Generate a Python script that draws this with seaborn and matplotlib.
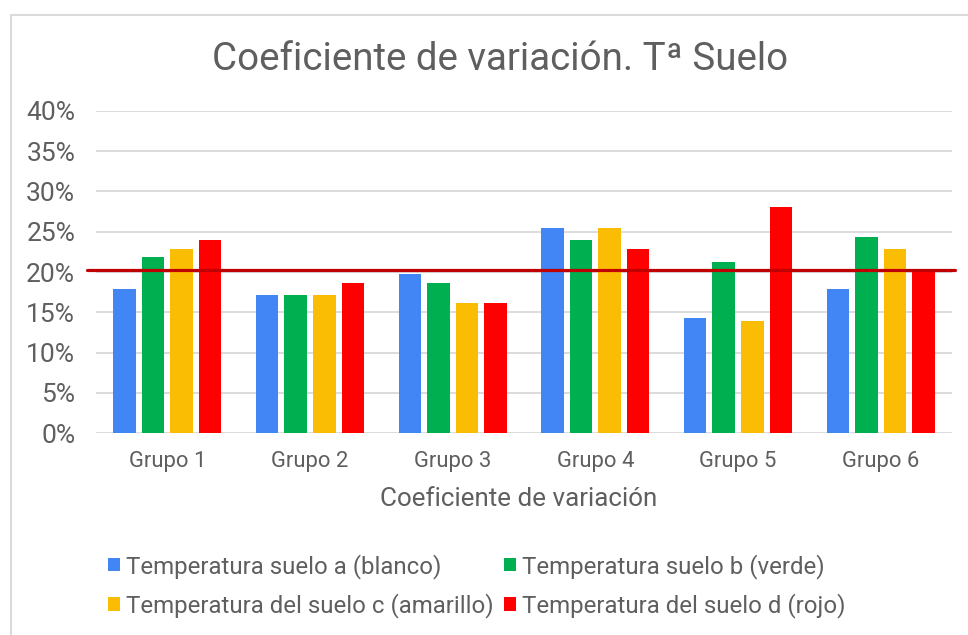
import matplotlib
matplotlib.use("Agg")
import matplotlib.pyplot as plt
import seaborn as sns
import pandas as pd
from matplotlib.ticker import PercentFormatter
from matplotlib.lines import Line2D

grupos = ["Grupo 1", "Grupo 2", "Grupo 3", "Grupo 4", "Grupo 5", "Grupo 6"]
series = ["Temperatura suelo a (blanco)", "Temperatura suelo b (verde)",
          "Temperatura del suelo c (amarillo)", "Temperatura del suelo d (rojo)"]
suelo_a = [17.9, 17.1, 19.8, 25.5, 14.3, 17.9]
suelo_b = [21.8, 17.1, 18.6, 24.0, 21.3, 24.3]
suelo_c = [22.8, 17.1, 16.1, 25.5, 13.9, 22.8]
suelo_d = [24.0, 18.6, 16.1, 22.8, 28.0, 20.4]
media = 20.3
colores = ["#4285F4", "#00AF50", "#FBBC04", "#FF0000"]
yticks = [0, 5, 10, 15, 20, 25, 30, 35, 40]

rows = []
for s, vals in zip(series, [suelo_a, suelo_b, suelo_c, suelo_d]):
    for g, v in zip(grupos, vals):
        rows.append({"grupo": g, "serie": s, "valor": v})
df = pd.DataFrame(rows)

sns.set_theme(style="white")
plt.rcParams["font.family"] = ["Roboto", "DejaVu Sans"]
txt = "#5f5f5f"

W, H = 968, 635
fig = plt.figure(figsize=(W / 100, H / 100), dpi=100)
ax = fig.add_axes([96 / W, 1 - 433.3 / H, (952 - 96) / W, (433.3 - 110.7) / H])

sns.barplot(data=df, x="grupo", y="valor", hue="serie", palette=colores,
            saturation=1, width=0.8, gap=0.21, ax=ax, legend=True,
            edgecolor="none", linewidth=0)

ax.set_ylim(0, 40)
ax.set_yticks(yticks)
ax.yaxis.set_major_formatter(PercentFormatter(xmax=100, decimals=0))
ax.grid(axis="y", color="#d9d9d9", lw=1.3)
ax.set_axisbelow(True)
for sp in ax.spines.values():
    sp.set_visible(False)
ax.tick_params(axis="both", length=0, colors=txt)
ax.tick_params(axis="y", pad=15, labelsize=19)
ax.tick_params(axis="x", pad=13, labelsize=15.8)
ax.set_xlabel("")
ax.set_ylabel("")

ax.axhline(media, xmin=(87 - 96) / 856, xmax=(955 - 96) / 856,
           color="#C00000", lw=2.3, clip_on=False, zorder=5)

handles, labels = ax.get_legend_handles_labels()
ax.get_legend().remove()
order = [0, 2, 1, 3]
fig.legend([handles[i] for i in order], [labels[i] for i in order],
           loc="center", bbox_to_anchor=(477 / W, 1 - 586 / H), ncol=2,
           frameon=False, fontsize=17.3, labelcolor=txt,
           handlelength=0.5, handleheight=0.5, handletextpad=0.25,
           columnspacing=0.45, labelspacing=0.62)

fig.text(500 / W, 1 - 70 / H, "Coeficiente de variación. Tª Suelo",
         ha="center", va="baseline", fontsize=27.7, color=txt)
fig.text(519 / W, 1 - 506 / H, "Coeficiente de variación",
         ha="center", va="baseline", fontsize=18.7, color=txt)

fig.add_artist(Line2D([10.5 / W, 10.5 / W], [0, 1 - 15 / H], transform=fig.transFigure,
                      color="#dadada", lw=1.5))
fig.add_artist(Line2D([10.5 / W, 1], [1 - 15 / H, 1 - 15 / H], transform=fig.transFigure,
                      color="#dadada", lw=1.5))

fig.savefig("out.png", dpi=100)
